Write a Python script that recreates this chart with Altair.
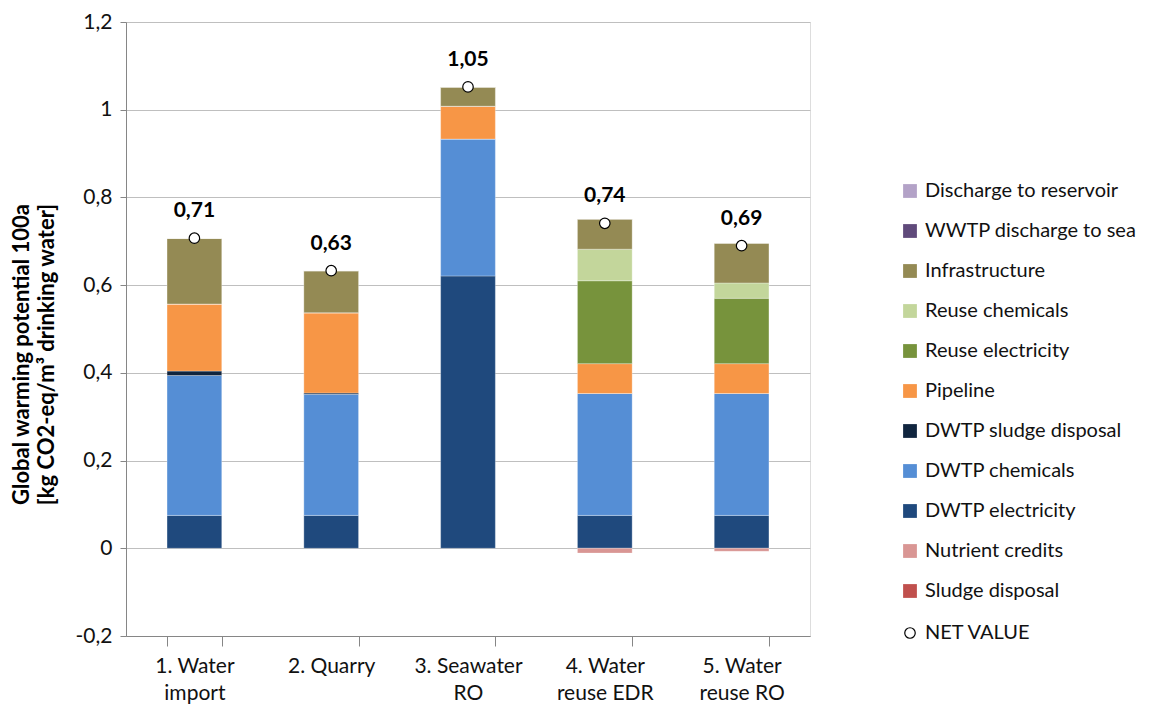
import altair as alt
import pandas as pd

categories = ["1. Water\nimport", "2. Quarry", "3. Seawater\nRO", "4. Water\nreuse EDR", "5. Water\nreuse RO"]

# legend order (top to bottom)
components = ["Discharge to reservoir", "WWTP discharge to sea", "Infrastructure", "Reuse chemicals",
              "Reuse electricity", "Pipeline", "DWTP sludge disposal", "DWTP chemicals",
              "DWTP electricity", "Nutrient credits", "Sludge disposal"]
colors = ["#B3A2C7", "#604A7B", "#948A54", "#C3D69B", "#77933C", "#F79646", "#10253F",
          "#558ED5", "#1F497D", "#D99694", "#C0504D"]

# values per category (same order as categories)
dwtp_electricity = [0.075, 0.075, 0.621, 0.075, 0.075]
dwtp_chemicals = [0.319, 0.276, 0.312, 0.278, 0.278]
dwtp_sludge = [0.010, 0.003, 0.0, 0.0, 0.0]
pipeline = [0.153, 0.183, 0.075, 0.068, 0.068]
reuse_electricity = [0.0, 0.0, 0.0, 0.189, 0.149]
reuse_chemicals = [0.0, 0.0, 0.0, 0.072, 0.035]
infrastructure = [0.150, 0.096, 0.044, 0.069, 0.091]
wwtp_discharge = [0.0, 0.0, 0.0, 0.0, 0.0]
discharge_reservoir = [0.0, 0.0, 0.0, 0.0, 0.0]
nutrient_credits = [0.0, 0.0, 0.0, -0.011, -0.007]
sludge_disposal = [0.0, 0.0, 0.0, 0.0, 0.0]

net_values = [0.707, 0.633, 1.052, 0.741, 0.690]
net_labels = ["0,71", "0,63", "1,05", "0,74", "0,69"]

stack_series = [
    ("DWTP electricity", dwtp_electricity),
    ("DWTP chemicals", dwtp_chemicals),
    ("DWTP sludge disposal", dwtp_sludge),
    ("Pipeline", pipeline),
    ("Reuse electricity", reuse_electricity),
    ("Reuse chemicals", reuse_chemicals),
    ("Infrastructure", infrastructure),
    ("WWTP discharge to sea", wwtp_discharge),
    ("Discharge to reservoir", discharge_reservoir),
    ("Nutrient credits", nutrient_credits),
    ("Sludge disposal", sludge_disposal),
]

rows = []
for order, (name, vals) in enumerate(stack_series):
    for cat, v in zip(categories, vals):
        rows.append({"cat": cat, "component": name, "value": v, "ord": order})
df = pd.DataFrame(rows)

net_df = pd.DataFrame({"cat": categories, "net": net_values, "label": net_labels,
                       "series": ["NET VALUE"] * len(categories)})

FONT = "Lato"
TXT = "#111111"

x_enc = alt.X("cat:N", sort=categories, title=None,
              scale=alt.Scale(paddingInner=0.6, paddingOuter=0.3),
              axis=alt.Axis(labelAngle=0, labelExpr="split(datum.label, '\\n')",
                            labelFontSize=21, labelColor=TXT, labelFont=FONT,
                            labelLineHeight=27, labelPadding=9,
                            tickBand="extent", tickSize=10, tickColor="#868686",
                            domainColor="#868686", grid=False))

y_scale = alt.Scale(domain=[-0.2, 1.2], nice=False)

bars = alt.Chart(df).mark_bar(stroke="white", strokeWidth=0.6, strokeOpacity=0.5).encode(
    x=x_enc,
    y=alt.Y("value:Q", scale=y_scale, stack="zero",
            title=["Global warming potential 100a", "[kg CO2-eq/m³ drinking water]"],
            axis=alt.Axis(values=[-0.2, 0, 0.2, 0.4, 0.6, 0.8, 1.0, 1.2],
                          labelExpr="replace(replace(format(datum.value, '.2~f'), '.', ','), '\u2212', '-')",
                          labelFontSize=21, labelColor=TXT, labelFont=FONT, labelPadding=8,
                          tickSize=6, tickColor="#868686", domainColor="#868686",
                          gridColor="#BFBFBF", gridWidth=1,
                          titleFont=FONT, titleFontSize=22, titleFontWeight="bold",
                          titleColor="#000000", titlePadding=17, titleLineHeight=25,
                          titleY=332)),
    color=alt.Color("component:N", scale=alt.Scale(domain=components, range=colors),
                    legend=alt.Legend(title=None, orient="none", legendX=774, legendY=159,
                                      symbolType="square", symbolSize=190, symbolStrokeWidth=0,
                                      labelFontSize=20, labelFont=FONT, labelColor=TXT,
                                      labelLimit=0, rowPadding=20, labelOffset=5, padding=0)),
    order=alt.Order("ord:Q"),
)

points = alt.Chart(net_df).mark_point(filled=True, fill="white",
                                      strokeWidth=1.2, size=110, opacity=1).encode(
    x=alt.X("cat:N", sort=categories),
    y=alt.Y("net:Q", scale=y_scale),
    stroke=alt.Stroke("series:N", scale=alt.Scale(range=["black"]),
                      legend=alt.Legend(title=None, orient="none", legendX=774, legendY=601,
                                        symbolType="circle", symbolSize=110,
                                        symbolFillColor="white", symbolStrokeWidth=1.2,
                                        symbolOpacity=1,
                                        labelFontSize=20, labelFont=FONT, labelColor=TXT,
                                        labelLimit=0, labelOffset=5, padding=0)),
)

labels = alt.Chart(net_df).mark_text(dy=-27, fontSize=21, fontWeight="bold", font=FONT,
                                     color="#000000").encode(
    x=alt.X("cat:N", sort=categories),
    y=alt.Y("net:Q", scale=y_scale),
    text="label:N",
)

chart = alt.layer(bars, points, labels).properties(
    width=684, height=614,
    autosize=alt.AutoSizeParams(type="none"),
    padding={"left": 118, "top": 14, "right": 332, "bottom": 68},
).configure_view(stroke=None).configure(background="white")

chart.save("out.html", embed_options={"renderer": "svg", "actions": False})
